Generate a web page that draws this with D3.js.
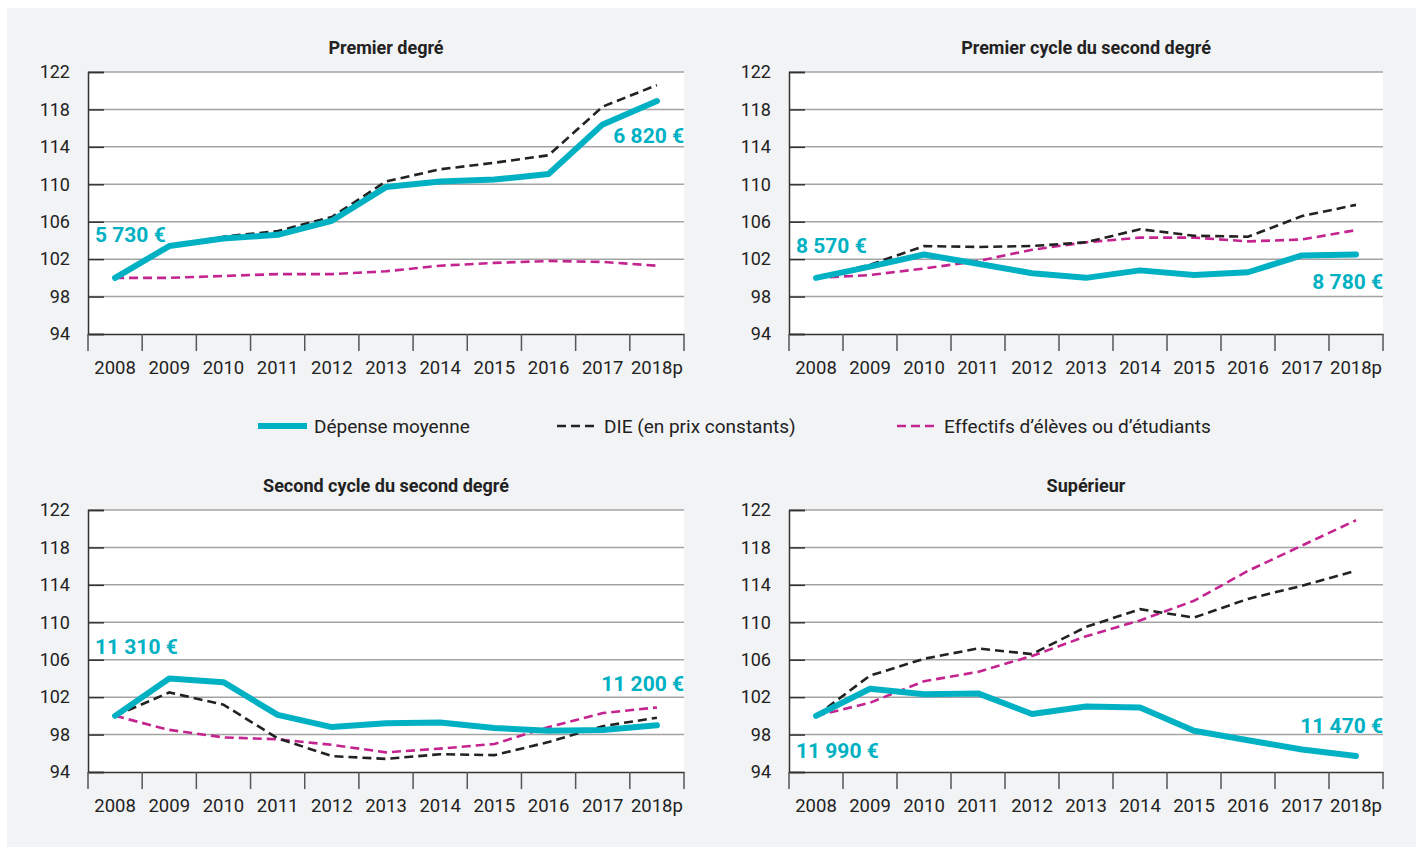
<!DOCTYPE html>
<html><head><meta charset="utf-8">
<script src="https://cdn.jsdelivr.net/npm/d3@7"></script>
<style>
html,body{margin:0;padding:0;background:#fff;}
svg{display:block;font-family:Roboto,"Noto Sans",sans-serif;}
</style></head>
<body>
<svg id="chart" width="1416" height="847"></svg>
<script>
// ---------- DATA ----------
const years = ["2008","2009","2010","2011","2012","2013","2014","2015","2016","2017","2018p"];
const yTicks = [94, 98, 102, 106, 110, 114, 118, 122];

const panelTitles = ["Premier degré", "Premier cycle du second degré", "Second cycle du second degré", "Supérieur"];

// Dépense moyenne (indice base 100 en 2008)
const depense1 = [100, 103.4, 104.2, 104.6, 106.1, 109.7, 110.3, 110.5, 111.1, 116.4, 118.9];
const depense2 = [100, 101.2, 102.5, 101.5, 100.5, 100.0, 100.8, 100.3, 100.6, 102.4, 102.5];
const depense3 = [100, 104.0, 103.6, 100.1, 98.8, 99.2, 99.3, 98.7, 98.4, 98.5, 99.0];
const depense4 = [100, 102.9, 102.3, 102.4, 100.2, 101.0, 100.9, 98.4, 97.4, 96.4, 95.7];

// DIE (en prix constants)
const die1 = [100, 103.4, 104.4, 105.0, 106.5, 110.3, 111.6, 112.3, 113.1, 118.3, 120.6];
const die2 = [100, 101.4, 103.4, 103.3, 103.4, 103.8, 105.2, 104.5, 104.4, 106.6, 107.8];
const die3 = [100, 102.5, 101.2, 97.6, 95.7, 95.4, 95.9, 95.8, 97.2, 98.9, 99.8];
const die4 = [100, 104.3, 106.1, 107.2, 106.6, 109.5, 111.4, 110.5, 112.5, 113.9, 115.5];

// Effectifs d'élèves ou d'étudiants
const eff1 = [100, 100.0, 100.2, 100.4, 100.4, 100.7, 101.3, 101.6, 101.8, 101.7, 101.3];
const eff2 = [100, 100.3, 101.0, 101.8, 103.0, 103.8, 104.3, 104.3, 103.9, 104.1, 105.1];
const eff3 = [100, 98.5, 97.7, 97.5, 96.9, 96.1, 96.5, 97.0, 98.8, 100.3, 100.9];
const eff4 = [100, 101.4, 103.7, 104.7, 106.4, 108.5, 110.2, 112.3, 115.5, 118.2, 120.9];

// Euro labels (first and last year)
const labelsStart = ["5 730 €", "8 570 €", "11 310 €", "11 990 €"];
const labelsEnd   = ["6 820 €", "8 780 €", "11 200 €", "11 470 €"];

const legendLabels = ["Dépense moyenne", "DIE (en prix constants)", "Effectifs d’élèves ou d’étudiants"];

// ---------- LAYOUT / STYLE ----------
const TEAL = "#00b1c3", BLACK = "#222222", MAGENTA = "#c4248f";
const panels = [
  {x0: 88,  x1: 684,  y0: 72,  y1: 334, dep: depense1, die: die1, eff: eff1, startVal: 104.6, endVal: 115.2},
  {x0: 789, x1: 1383, y0: 72,  y1: 334, dep: depense2, die: die2, eff: eff2, startVal: 103.5, endVal: 99.6},
  {x0: 88,  x1: 684,  y0: 510, y1: 772, dep: depense3, die: die3, eff: eff3, startVal: 107.4, endVal: 103.5},
  {x0: 789, x1: 1383, y0: 510, y1: 772, dep: depense4, die: die4, eff: eff4, startVal: 96.35, endVal: 99.0}
];

const svg = d3.select("#chart");
svg.append("rect").attr("x", 7).attr("y", 8).attr("width", 1409).attr("height", 839).attr("fill", "#f2f3f5");

panels.forEach((p, i) => {
  const x = d3.scaleBand().domain(years).range([p.x0, p.x1]);
  const y = d3.scaleLinear().domain([94, 122]).range([p.y1, p.y0]);
  const g = svg.append("g");

  g.append("rect").attr("x", p.x0).attr("y", p.y0).attr("width", p.x1 - p.x0).attr("height", p.y1 - p.y0).attr("fill", "#fff");

  // grid
  g.selectAll(".grid").data(yTicks.filter(t => t > 94)).join("line")
    .attr("x1", p.x0).attr("x2", p.x1)
    .attr("y1", d => y(d)).attr("y2", d => y(d))
    .attr("stroke", "#a3a3a3").attr("stroke-width", 1.5);

  // y axis
  const yAxis = d3.axisLeft(y).tickValues(yTicks).tickSize(-16).tickPadding(18).tickFormat(d3.format("d"));
  const ya = g.append("g").attr("transform", `translate(${p.x0},0)`).call(yAxis);
  ya.select(".domain").attr("stroke", "#333").attr("stroke-width", 1.5);
  ya.selectAll(".tick line").attr("stroke", "#333").attr("stroke-width", 1.5);
  ya.selectAll(".tick text").attr("font-size", 18).attr("fill", "#222").attr("font-family", "Roboto");

  // x axis
  const xa = g.append("g").attr("transform", `translate(0,${p.y1})`)
    .call(d3.axisBottom(x).tickSize(0).tickPadding(27));
  xa.select(".domain").attr("stroke", "#333").attr("stroke-width", 1.5);
  xa.selectAll(".tick text").attr("font-size", 18.5).attr("fill", "#222").attr("font-family", "Roboto");
  const bounds = years.map(d => x(d)).concat([p.x1]);
  g.selectAll(".xt").data(bounds).join("line")
    .attr("x1", d => d).attr("x2", d => d)
    .attr("y1", p.y1).attr("y2", p.y1 + 17)
    .attr("stroke", "#555").attr("stroke-width", 1.5);

  // title
  g.append("text").attr("x", (p.x0 + p.x1) / 2).attr("y", p.y0 - 18)
    .attr("text-anchor", "middle").attr("font-size", 18).attr("font-weight", "bold").attr("fill", "#222")
    .text(panelTitles[i]);

  const line = d3.line().x((d, j) => x(years[j]) + x.bandwidth() / 2).y(d => y(d));

  g.append("path").datum(p.eff).attr("d", line).attr("fill", "none")
    .attr("stroke", MAGENTA).attr("stroke-width", 2.6).attr("stroke-dasharray", "9,5");
  g.append("path").datum(p.die).attr("d", line).attr("fill", "none")
    .attr("stroke", BLACK).attr("stroke-width", 2.6).attr("stroke-dasharray", "9,5");
  g.append("path").datum(p.dep).attr("d", line).attr("fill", "none")
    .attr("stroke", TEAL).attr("stroke-width", 6).attr("stroke-linecap", "round").attr("stroke-linejoin", "round");

  // labels
  g.append("text").attr("x", p.x0 + 7).attr("y", y(p.startVal)).attr("dy", "0.36em")
    .attr("font-size", 21).attr("font-weight", "bold").attr("fill", TEAL).text(labelsStart[i]);
  g.append("text").attr("x", p.x1).attr("y", y(p.endVal)).attr("dy", "0.36em").attr("text-anchor", "end")
    .attr("font-size", 21).attr("font-weight", "bold").attr("fill", TEAL).text(labelsEnd[i]);
});

// legend
const leg = svg.append("g");
const legItems = [
  {x: 258, w: 49, color: TEAL, width: 6, dash: null},
  {x: 557, w: 40, color: BLACK, width: 2.6, dash: "9,5"},
  {x: 897, w: 40, color: MAGENTA, width: 2.6, dash: "9,5"}
];
legItems.forEach((it, k) => {
  leg.append("line").attr("x1", it.x).attr("x2", it.x + it.w).attr("y1", 426).attr("y2", 426)
    .attr("stroke", it.color).attr("stroke-width", it.width).attr("stroke-dasharray", it.dash);
  leg.append("text").attr("x", it.x + it.w + 7).attr("y", 426).attr("dy", "0.36em")
    .attr("font-size", 19).attr("fill", "#222").text(legendLabels[k]);
});
</script>
</body></html>
